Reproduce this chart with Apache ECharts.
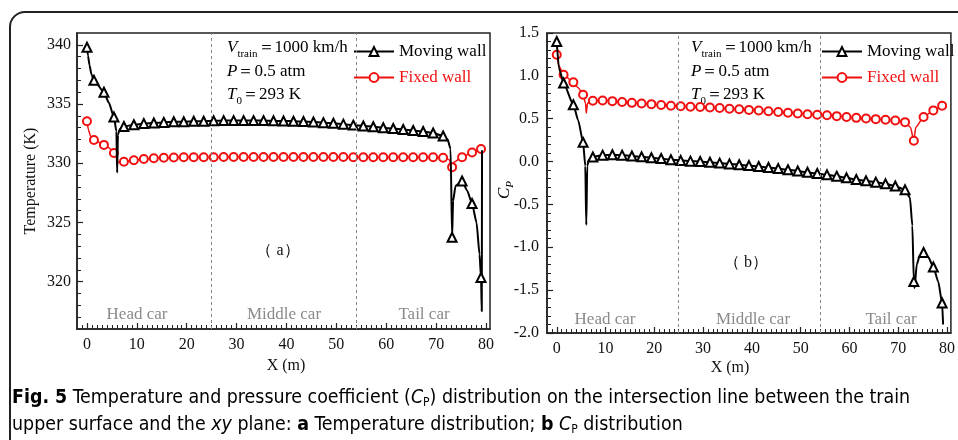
<!DOCTYPE html>
<html><head><meta charset="utf-8">
<script src="https://cdn.jsdelivr.net/npm/echarts@6/dist/echarts.min.js"></script>
<style>html,body{margin:0;padding:0;background:#fff}#c{width:958px;height:440px}</style>
</head><body><div id="c"></div>
<script>
// ---- data ----
const markerX = [0, 1.4, 3.4, 5.4, 7.4, 9.4, 11.4, 13.4, 15.4, 17.4, 19.4, 21.4, 23.4, 25.4, 27.4, 29.4, 31.4, 33.4, 35.4, 37.4, 39.4, 41.4, 43.4, 45.4, 47.4, 49.4, 51.4, 53.4, 55.4, 57.4, 59.4, 61.4, 63.4, 65.4, 67.4, 69.4, 71.4, 73.2, 75.2, 77.2, 79.0];
const tempMoving = [339.8, 337.0, 336.0, 333.9, 333.1, 333.25, 333.35, 333.4, 333.45, 333.5, 333.5, 333.55, 333.55, 333.58, 333.6, 333.6, 333.6, 333.6, 333.6, 333.58, 333.57, 333.55, 333.52, 333.48, 333.43, 333.38, 333.3, 333.22, 333.15, 333.08, 333.0, 332.93, 332.85, 332.77, 332.68, 332.55, 332.3, 323.75, 328.5, 326.6, 320.35];
const tempMovingExtra = [[0.2,339.1],[0.5,338.3],[0.9,337.5],[4.4,335.1],[5.9,332.7],[6.05,329.2],[6.2,332.4],[6.6,332.9],[72.3,332.0],[72.9,331.2],[73.4,326.8],[73.9,328.1],[76.2,327.7],[78.1,325.0],[78.7,322.3],[79.15,317.5],[79.2,331.1]];
const tempFixed = [333.55, 331.97, 331.55, 330.86, 330.13, 330.25, 330.36, 330.42, 330.46, 330.48, 330.5, 330.5, 330.5, 330.5, 330.52, 330.52, 330.52, 330.52, 330.52, 330.52, 330.52, 330.52, 330.52, 330.52, 330.52, 330.52, 330.52, 330.5, 330.5, 330.5, 330.5, 330.5, 330.5, 330.5, 330.5, 330.5, 330.47, 329.67, 330.5, 330.9, 331.2];
const tempFixedExtra = [[0.3,332.8],[0.8,332.2],[4.4,331.3],[5.9,330.5],[6.05,330.0],[6.4,330.1],[72.6,330.3],[73.6,330.1]];
const cpMoving = [1.40, 0.917, 0.663, 0.224, 0.053, 0.075, 0.08, 0.075, 0.065, 0.055, 0.045, 0.035, 0.022, 0.012, 0.005, 0.0, -0.008, -0.018, -0.027, -0.037, -0.047, -0.058, -0.07, -0.082, -0.095, -0.11, -0.125, -0.14, -0.155, -0.17, -0.19, -0.21, -0.225, -0.24, -0.26, -0.285, -0.33, -1.40, -1.06, -1.23, -1.65];
const cpMovingExtra = [[0.45,1.09],[4.4,0.48],[5.85,-0.05],[6.05,-0.74],[6.25,-0.05],[6.6,0.02],[72.4,-0.42],[72.9,-0.75],[73.35,-1.475],[73.8,-1.2],[74.4,-1.1],[76.2,-1.12],[78.2,-1.4],[79.2,-1.9]];
const cpFixed = [1.247, 1.013, 0.924, 0.78, 0.71, 0.712, 0.705, 0.695, 0.685, 0.678, 0.67, 0.66, 0.652, 0.645, 0.64, 0.636, 0.63, 0.624, 0.617, 0.61, 0.603, 0.595, 0.587, 0.578, 0.57, 0.56, 0.553, 0.547, 0.54, 0.53, 0.52, 0.51, 0.502, 0.495, 0.488, 0.48, 0.46, 0.243, 0.52, 0.597, 0.652];
const cpFixedExtra = [[0.4,1.12],[4.4,0.86],[5.9,0.68],[6.06,0.567],[6.3,0.68],[72.5,0.40],[73.6,0.40]];
const carBoundaries = [25, 54];
const xTicks = [0, 10, 20, 30, 40, 50, 60, 70, 80];
const tTicks = [320, 325, 330, 335, 340];
const seriesNames = ['Moving wall', 'Fixed wall'];
const carNames = ['Head car', 'Middle car', 'Tail car'];

// ---- helpers ----
const SERIF = "'Liberation Serif','Times New Roman',serif";
const RED = '#f01010';
function build(ys, extra) {
  const pts = markerX.map((x, i) => ({ value: [x, ys[i]] }));
  extra.forEach(p => pts.push({ value: p, symbol: 'none' }));
  pts.sort((a, b) => a.value[0] - b.value[0]);
  return pts;
}
const xMinor = []; for (let v = -1; v <= 80; v++) if (v % 10 !== 0) xMinor.push(v);
const tMinor = []; for (let v = 317; v <= 340; v++) if (v % 5 !== 0) tMinor.push(v);
const lbl = { fontFamily: SERIF, fontSize: 16, color: '#111' };
const axLine = { show: true, onZero: false, lineStyle: { color: '#222', width: 1.5 } };

function mainX(grid) {
  return { type: 'value', gridIndex: grid, position: 'bottom', min: -2, max: 80.8, axisLine: axLine,
    axisTick: { inside: true, length: 6, customValues: xTicks, lineStyle: { color: '#222', width: 1.2 } },
    axisLabel: Object.assign({ customValues: xTicks, margin: 8 }, lbl), splitLine: { show: false } };
}
function minorX(grid) {
  return { type: 'value', gridIndex: grid, position: 'bottom', min: -2, max: 80.8, axisLine: { show: false, onZero: false },
    axisTick: { inside: true, length: 4, customValues: xMinor, lineStyle: { color: '#222', width: 1 } },
    axisLabel: { show: false }, splitLine: { show: false } };
}
const markLine = { symbol: ['none', 'none'], silent: true, animation: false, label: { show: false },
  lineStyle: { type: [3, 3], color: '#888', width: 1 }, data: carBoundaries.map(v => ({ xAxis: v })) };

function movingSeries(xi, yi, data, ml) {
  const s = { name: seriesNames[0], type: 'line', xAxisIndex: xi, yAxisIndex: yi, data: data,
    symbol: 'emptyTriangle', symbolSize: 9, smooth: 0.2, smoothMonotone: 'x',
    lineStyle: { color: '#000', width: 2 }, itemStyle: { color: '#000', borderWidth: 1 }, z: 3 };
  if (ml) s.markLine = markLine;
  return s;
}
function fixedSeries(xi, yi, data) {
  return { name: seriesNames[1], type: 'line', xAxisIndex: xi, yAxisIndex: yi, data: data,
    symbol: 'emptyCircle', symbolSize: 8, smooth: 0.2, smoothMonotone: 'x',
    lineStyle: { color: RED, width: 1.5 }, itemStyle: { color: RED, borderWidth: 1.2 }, z: 2 };
}
function legend(left) {
  return { left: left, top: 43, orient: 'vertical', itemWidth: 40, itemHeight: 11, itemGap: 9, padding: 0,
    textStyle: { fontFamily: SERIF, fontSize: 17 },
    data: [{ name: seriesNames[0], textStyle: { color: '#000' } }, { name: seriesNames[1], textStyle: { color: RED } }] };
}
const annRich = {
  i: { fontFamily: SERIF, fontSize: 17, fontStyle: 'italic', color: '#111', verticalAlign: 'middle' },
  n: { fontFamily: SERIF, fontSize: 17, color: '#111', verticalAlign: 'middle' },
  s: { fontFamily: SERIF, fontSize: 11, color: '#111', verticalAlign: 'bottom', padding: [12, 0, 0, 0] }
};
function annotations(x) {
  return [
    { type: 'text', x: x, y: 48, style: { text: '{i|V}{s|train}{n|＝1000 km/h}', rich: annRich, verticalAlign: 'middle' } },
    { type: 'text', x: x, y: 72, style: { text: '{i|P}{n|＝0.5 atm}', rich: annRich, verticalAlign: 'middle' } },
    { type: 'text', x: x, y: 95, style: { text: '{i|T}{s|0}{n|＝293 K}', rich: annRich, verticalAlign: 'middle' } }
  ];
}
function txt(x, y, t, extra) {
  return { type: 'text', x: x, y: y, style: Object.assign({ text: t, fontFamily: SERIF, fontSize: 17, fill: '#111', align: 'center', verticalAlign: 'middle' }, extra || {}) };
}
const grey = { fill: '#8a8a8a' };
const capFont = "'Liberation Sans Narrow','DejaVu Sans Condensed','Liberation Sans',sans-serif";
const CF = 19.4;
const capRich = {
  b: { fontFamily: capFont, fontSize: CF, fontWeight: 'bold', color: '#231f20' },
  n: { fontFamily: capFont, fontSize: CF, color: '#231f20' },
  i: { fontFamily: capFont, fontSize: CF, fontStyle: 'italic', color: '#231f20' },
  s: { fontFamily: capFont, fontSize: 12, color: '#231f20', verticalAlign: 'bottom', padding: [10, 0, 0, 0] }
};

const chart = echarts.init(document.getElementById('c'), null, { renderer: 'canvas' });
chart.setOption({
  animation: false,
  backgroundColor: '#fff',
  grid: [
    { left: 77, top: 33, width: 413, height: 296, show: true, borderColor: '#222', borderWidth: 1.5, containLabel: false },
    { left: 547, top: 33, width: 410, height: 300, show: true, borderColor: '#222', borderWidth: 1.5, containLabel: false }
  ],
  xAxis: [mainX(0), minorX(0), mainX(1), minorX(1)],
  yAxis: [
    { type: 'value', gridIndex: 0, position: 'left', min: 316, max: 341, axisLine: axLine,
      axisTick: { inside: true, length: 6, customValues: tTicks, lineStyle: { color: '#222', width: 1.2 } },
      axisLabel: Object.assign({ customValues: tTicks, margin: 6 }, lbl), splitLine: { show: false } },
    { type: 'value', gridIndex: 0, position: 'left', min: 316, max: 341, axisLine: { show: false, onZero: false },
      axisTick: { inside: true, length: 4, customValues: tMinor, lineStyle: { color: '#222', width: 1 } },
      axisLabel: { show: false }, splitLine: { show: false } },
    { type: 'value', gridIndex: 1, position: 'left', min: -2, max: 1.5, interval: 0.5, axisLine: axLine,
      axisTick: { inside: true, length: 6, lineStyle: { color: '#222', width: 1.2 } },
      minorTick: { show: true, splitNumber: 5, length: 4, lineStyle: { color: '#222', width: 1 } },
      axisLabel: Object.assign({ margin: 8, formatter: v => v.toFixed(1) }, lbl), splitLine: { show: false } }
  ],
  legend: [legend(353), legend(821)],
  series: [
    movingSeries(0, 0, build(tempMoving, tempMovingExtra), true),
    fixedSeries(0, 0, build(tempFixed, tempFixedExtra)),
    movingSeries(2, 2, build(cpMoving, cpMovingExtra), true),
    fixedSeries(2, 2, build(cpFixed, cpFixedExtra))
  ],
  graphic: [
    { type: 'rect', shape: { x: 10, y: 12, width: 980, height: 460, r: 15 }, style: { fill: 'none', stroke: '#222', lineWidth: 2 }, z: 0 },
    ...annotations(227),
    ...annotations(691),
    txt(137, 315, carNames[0], grey), txt(284, 315, carNames[1], grey), txt(424, 315, carNames[2], grey),
    txt(605, 320, carNames[0], grey), txt(753, 320, carNames[1], grey), txt(891, 320, carNames[2], grey),
    txt(278, 251, '（ a）', { fontSize: 16 }), txt(746, 263, '（ b）', { fontSize: 16 }),
    txt(286, 366, 'X (m)', { fontSize: 16 }), txt(730, 368, 'X (m)', { fontSize: 16 }),
    { type: 'text', x: 31, y: 181, rotation: Math.PI / 2, style: { text: 'Temperature (K)', fontFamily: SERIF, fontSize: 16, fill: '#111', align: 'center', verticalAlign: 'middle' } },
    { type: 'text', x: 505, y: 190, rotation: Math.PI / 2, style: { text: '{c|C}{p|P}', align: 'center', verticalAlign: 'middle',
      rich: { c: { fontFamily: SERIF, fontSize: 17, fontStyle: 'italic', color: '#111' }, p: { fontFamily: SERIF, fontSize: 11, fontStyle: 'italic', color: '#111', verticalAlign: 'bottom', padding: [10, 0, 0, 0] } } } },
    { type: 'text', x: 12, y: 398, style: { verticalAlign: 'middle', rich: capRich,
      text: '{b|Fig. 5}{n| Temperature and pressure coefficient (}{i|C}{s|P}{n|) distribution on the intersection line between the train}' } },
    { type: 'text', x: 12, y: 425, style: { verticalAlign: 'middle', rich: capRich,
      text: '{n|upper surface and the }{i|xy}{n| plane: }{b|a}{n| Temperature distribution; }{b|b}{n| }{i|C}{s|P}{n| distribution}' } }
  ]
});
</script>
</body></html>
